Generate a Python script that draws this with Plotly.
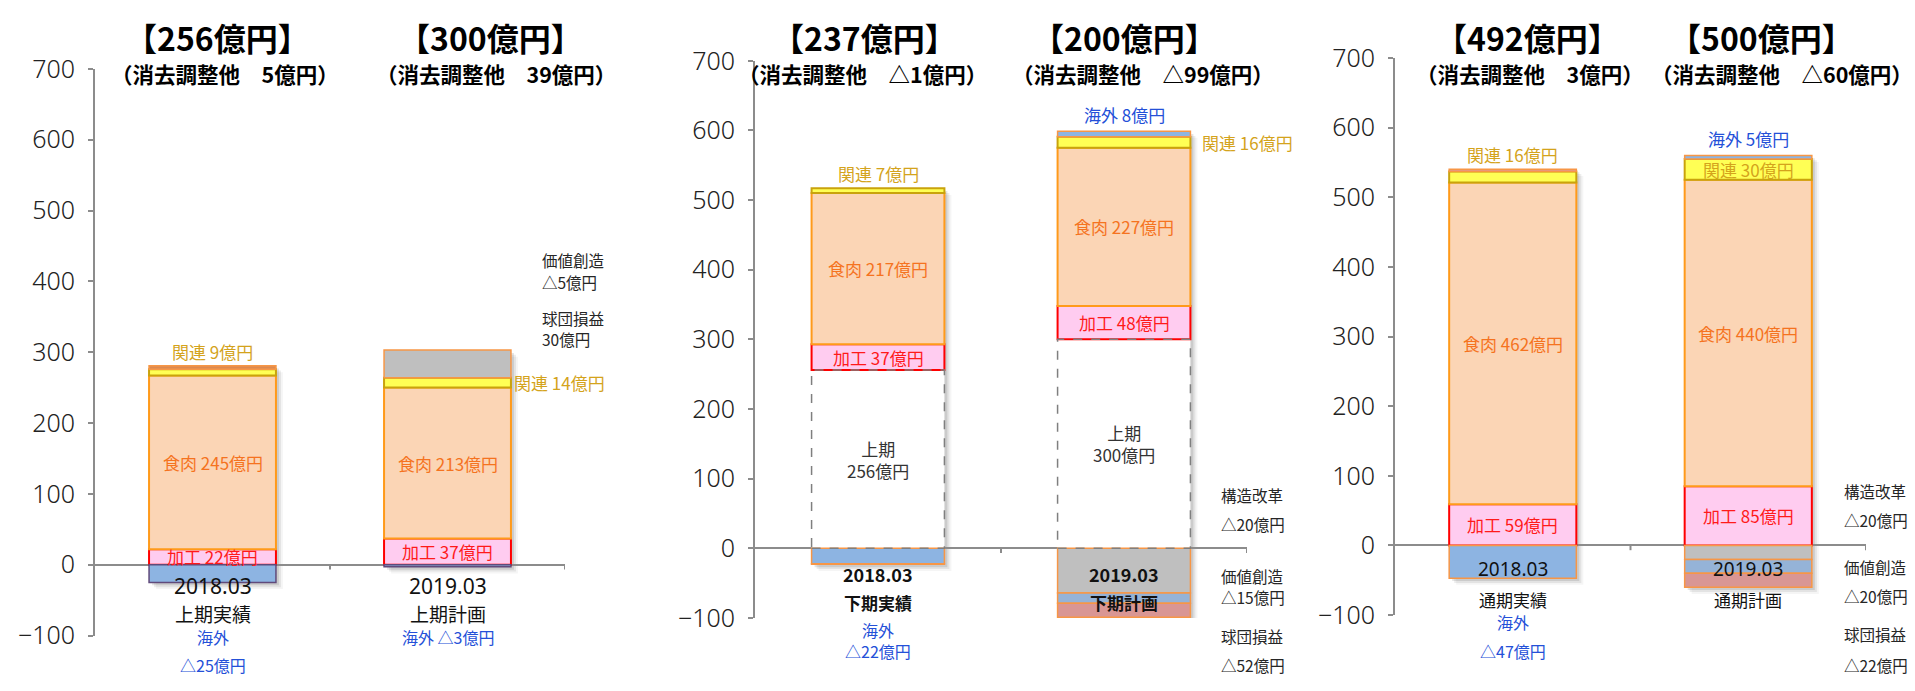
import plotly.graph_objects as go

W, H = 1915, 691

# ---------------- data (億円) ----------------
years = ["2018.03", "2019.03"]
period_names = [["上期実績", "上期計画"], ["下期実績", "下期計画"], ["通期実績", "通期計画"]]
segment_profit = [[256, 300], [237, 200], [492, 500]]      # 見出しの合計
adjust_total = [[5, 39], [-1, -99], [3, -60]]               # 消去調整他

first_half = [[0, 0], [256, 300], [0, 0]]                   # 上期（下期グラフの土台）
processed = [[22, 37], [37, 48], [59, 85]]                  # 加工
fresh_meats = [[245, 213], [217, 227], [462, 440]]          # 食肉
affiliated = [[9, 14], [7, 16], [16, 30]]                   # 関連
overseas = [[-25, -3], [-22, 8], [-47, 5]]                  # 海外
adjust_other = [[5, 39], [-1, -64], [3, -20]]               # 消去調整他（下記以外）
value_creation = [[0, 0], [0, -15], [0, -20]]               # 価値創造
restructuring = [[0, 0], [0, -20], [0, -20]]                # 構造改革

note_items = [["価値創造", "球団損益"],
              ["構造改革", "価値創造", "球団損益"],
              ["構造改革", "価値創造", "球団損益"]]
note_values = [[-5, 30], [-20, -15, -52], [-20, -20, -22]]

# ---------------- geometry / style ----------------
PANELS = [
    dict(left=95, right=565, top=53.5, bottom=649.5),
    dict(left=755, right=1247, top=45, bottom=631),
    dict(left=1395, right=1866, top=42, bottom=628),
]
Y_MIN, Y_MAX = -100, 700
BAR_W = 0.54

CJK = "Noto Sans CJK JP"
AXIS_GREY = "#8c8c8c"
C_PROC, C_MEAT, C_AFF, C_OVS, C_TXT = "#ff1a1a", "#f5731f", "#d4a31c", "#2450d8", "#262626"


def fx(x):
    return x / W


def fy(y):
    return 1 - y / H


def fmt(v):
    return f"{v}億円" if v >= 0 else f"△{-v}億円"


def axis_names(p):
    return ("x" if p == 0 else f"x{p+1}"), ("y" if p == 0 else f"y{p+1}")


def text(**kw):
    base = dict(showarrow=False, xanchor="center", yanchor="middle", borderpad=0)
    base.update(kw)
    return base


def fill_for(key, p, b):
    return {
        "first_half": "#ffffff",
        "processed": "#ffccf0",
        "fresh": "#fbd5b5",
        "affiliated": "#ffff55",
        "overseas": "#8db4e2",
        "adjust": [["#dc8a50", "#bfbfbf"], ["#bfbfbf", "#bfbfbf"], ["#e3978c", "#bfbfbf"]][p][b],
        "value": "#95b3d7",
        "restructure": "#d99694",
    }[key]


def line_for(key, p, b):
    return {
        "first_half": ("rgba(0,0,0,0)", 0),
        "processed": ("#ff0000", 2),
        "fresh": ("#ff9a1a", 2),
        "affiliated": ("#c9a30c", 2),
        "overseas": ("#604a7b" if p == 0 else "#f79646", 1.5),
        "adjust": ("#f79646", 1.5),
        "value": ("#f79646", 1.5),
        "restructure": ("#f79646", 1.5),
    }[key]


layers = [
    ("first_half", first_half),
    ("processed", processed),
    ("fresh", fresh_meats),
    ("affiliated", affiliated),
    ("overseas", overseas),
    ("adjust", adjust_other),
    ("value", value_creation),
    ("restructure", restructuring),
]

fig = go.Figure()
shapes = []
ann = []

for p in range(3):
    xa, ya = axis_names(p)
    g = PANELS[p]
    px_per_x = (g["right"] - g["left"]) / 2.0
    px_per_y = (g["bottom"] - g["top"]) / (Y_MAX - Y_MIN)

    for key, data in layers:
        vals = [v if v != 0 else None for v in data[p]]
        fig.add_trace(go.Bar(
            x=[0, 1], y=vals, xaxis=xa, yaxis=ya, width=BAR_W,
            marker=dict(color=[fill_for(key, p, b) for b in range(2)],
                        line=dict(color=[line_for(key, p, b)[0] for b in range(2)],
                                  width=[line_for(key, p, b)[1] for b in range(2)])),
            hoverinfo="skip", showlegend=False,
        ))

    for b in range(2):
        pos = [d[p][b] for _, d in layers if d[p][b] > 0]
        neg = [d[p][b] for _, d in layers if d[p][b] < 0]
        top, bottom = sum(pos), sum(neg)

        # soft drop shadow
        for off, op in [(3, 0.10), (5, 0.07), (7, 0.04)]:
            dxu, dyu = off / px_per_x, off / px_per_y
            shapes.append(dict(type="rect", xref=xa, yref=ya, layer="below",
                               x0=b - BAR_W / 2 + dxu, x1=b + BAR_W / 2 + dxu,
                               y0=bottom - dyu, y1=top - dyu,
                               fillcolor=f"rgba(0,0,0,{op})", line=dict(width=0)))

        base = first_half[p][b]
        if base:
            shapes.append(dict(type="rect", xref=xa, yref=ya, layer="above",
                               x0=b - BAR_W / 2, x1=b + BAR_W / 2, y0=0, y1=base,
                               line=dict(color="#7f7f7f", width=1.5, dash="dash")))
            ann.append(text(xref=xa, yref=ya, x=b, y=base / 2, text=f"上期<br>{base}億円",
                            font=dict(family=CJK, size=17, color="#333333")))

        # segment labels
        k0 = base
        v = processed[p][b]
        ann.append(text(xref=xa, yref=ya, x=b, y=k0 + v / 2, text=f"加工 {v}億円",
                        font=dict(family=CJK, size=17, color=C_PROC)))
        k1 = k0 + v
        v = fresh_meats[p][b]
        ann.append(text(xref=xa, yref=ya, x=b, y=k1 + v / 2, text=f"食肉 {v}億円",
                        font=dict(family=CJK, size=17, color=C_MEAT)))
        k2 = k1 + v
        v = affiliated[p][b]
        aff_font = dict(family=CJK, size=17, color=C_AFF)
        if b == 0:
            ann.append(text(xref=xa, yref=ya, x=b, y=top, yanchor="bottom", yshift=1,
                            text=f"関連 {v}億円", font=aff_font))
        elif p == 2:
            ann.append(text(xref=xa, yref=ya, x=b, y=k2 + v / 2, text=f"関連 {v}億円",
                            font=aff_font))
        else:
            ann.append(text(xref=xa, yref=ya, x=b + BAR_W / 2, y=k2 + v / 2, xanchor="left",
                            xshift=2 if p == 0 else 11, text=f"関連 {v}億円", font=aff_font))
        v = overseas[p][b]
        if v > 0:
            ann.append(text(xref=xa, yref=ya, x=b, y=top, yanchor="bottom", yshift=3,
                            text=f"海外 {v}億円", font=dict(family=CJK, size=17, color=C_OVS)))

    # x-axis boundary ticks
    for xt in (0.5, 1.5):
        shapes.append(dict(type="line", xref=xa, yref=ya, layer="above",
                           x0=xt, x1=xt, y0=0, y1=-5 / px_per_y,
                           line=dict(color=AXIS_GREY, width=2)))

# ---- headings ----
TITLE_X = [[217, 490], [864, 1124], [1527, 1761]]
SUB_X = [[225, 496], [862, 1143], [1530, 1782]]
for p in range(3):
    for b in range(2):
        ann.append(text(xref="paper", yref="paper", x=fx(TITLE_X[p][b]), y=fy(20),
                        text=f"<b>【{segment_profit[p][b]}億円】</b>",
                        font=dict(family=CJK, size=32, color="#000000")))
        ann.append(text(xref="paper", yref="paper", x=fx(SUB_X[p][b]), y=fy(58.5),
                        text=f"<b>（消去調整他　{fmt(adjust_total[p][b])}）</b>",
                        font=dict(family=CJK, size=21.5, color="#000000")))

# ---- category labels under the axis ----
CAT_STYLE = [
    dict(year_y=597, year_size=21, name_y=626, name_size=19, bold=False),
    dict(year_y=585, year_size=18, name_y=615, name_size=17, bold=True),
    dict(year_y=580, year_size=19, name_y=612, name_size=17, bold=False),
]
for p in range(3):
    xa, _ = axis_names(p)
    s = CAT_STYLE[p]
    for b in range(2):
        yt, nt = years[b], period_names[p][b]
        if s["bold"]:
            yt, nt = f"<b>{yt}</b>", f"<b>{nt}</b>"
        ann.append(text(xref=xa, yref="paper", x=b, y=fy(s["year_y"]), text=yt,
                        font=dict(family="Noto Sans" if not s["bold"] else CJK,
                                  size=s["year_size"], color="#111111")))
        ann.append(text(xref=xa, yref="paper", x=b, y=fy(s["name_y"]), text=nt,
                        font=dict(family=CJK, size=s["name_size"], color="#111111")))

# negative 海外 labels below the bars
OVS_BELOW = {(0, 0): (651, 680), (0, 1): (651, None), (1, 0): (644, 666), (2, 0): (635, 666)}
for (p, b), (y1, y2) in OVS_BELOW.items():
    xa, _ = axis_names(p)
    v = overseas[p][b]
    f = dict(family=CJK, size=16, color=C_OVS)
    if y2 is None:
        ann.append(text(xref=xa, yref="paper", x=b, y=fy(y1), text=f"海外 {fmt(v)}", font=f))
    else:
        ann.append(text(xref=xa, yref="paper", x=b, y=fy(y1), text="海外", font=f))
        ann.append(text(xref=xa, yref="paper", x=b, y=fy(y2), text=fmt(v), font=f))

# breakdown notes of 消去調整他 (name line, value line)
NOTE_POS = [
    dict(x=541, ys=[(255, 278), (315, 338)]),
    dict(x=1220, ys=[(502, 532), (587, 609), (650, 680)]),
    dict(x=1843, ys=[(497, 528), (577, 608), (648, 680)]),
]
for p in range(3):
    for i, name in enumerate(note_items[p]):
        ya1, ya2 = NOTE_POS[p]["ys"][i]
        f = dict(family=CJK, size=15.5, color=C_TXT)
        ann.append(text(xref="paper", yref="paper", x=fx(NOTE_POS[p]["x"]), y=fy(ya1),
                        xanchor="left", text=name, font=f))
        ann.append(text(xref="paper", yref="paper", x=fx(NOTE_POS[p]["x"]), y=fy(ya2),
                        xanchor="left", text=fmt(note_values[p][i]), font=f))

# ---- axes ----
layout_axes = {}
for p in range(3):
    g = PANELS[p]
    xname = "xaxis" if p == 0 else f"xaxis{p+1}"
    yname = "yaxis" if p == 0 else f"yaxis{p+1}"
    xa, ya = axis_names(p)
    layout_axes[xname] = dict(domain=[fx(g["left"]), fx(g["right"])], range=[-0.5, 1.5],
                              visible=False, anchor=ya, fixedrange=True)
    layout_axes[yname] = dict(domain=[fy(g["bottom"]), fy(g["top"])], range=[Y_MIN, Y_MAX],
                              anchor=xa, dtick=100, tick0=0, showgrid=False,
                              showline=True, linecolor=AXIS_GREY, linewidth=2,
                              ticks="outside", ticklen=5, tickwidth=2, tickcolor=AXIS_GREY,
                              ticklabelstandoff=8,
                              zeroline=True, zerolinecolor=AXIS_GREY, zerolinewidth=2,
                              tickfont=dict(family="Noto Sans", size=25, color="#222222",
                                            weight=300),
                              fixedrange=True)

fig.update_layout(
    width=W, height=H, autosize=False,
    margin=dict(l=0, r=0, t=0, b=0),
    paper_bgcolor="#ffffff", plot_bgcolor="rgba(0,0,0,0)",
    barmode="relative",
    showlegend=False,
    shapes=shapes,
    annotations=ann,
    **layout_axes,
)

fig.write_html("out.html", config={"displayModeBar": False})
